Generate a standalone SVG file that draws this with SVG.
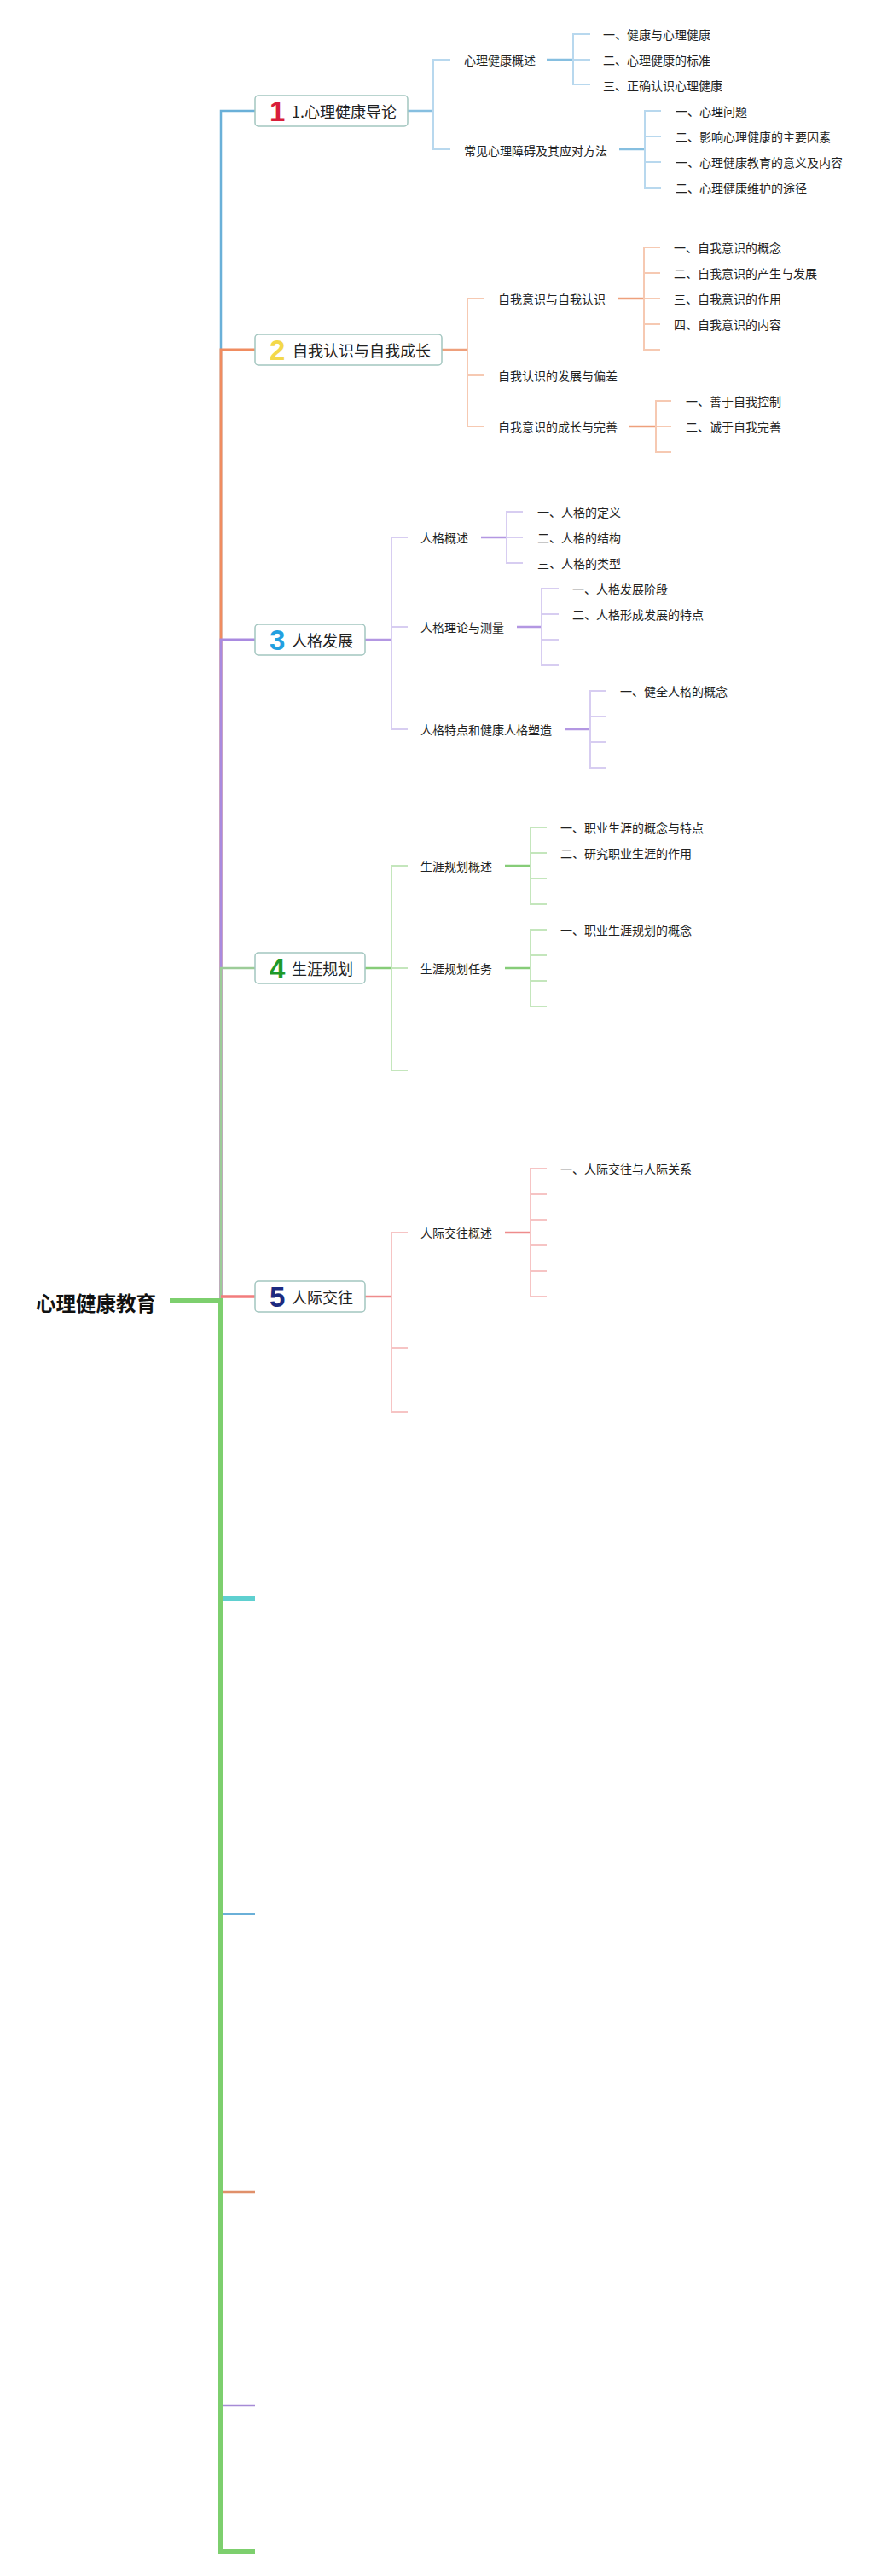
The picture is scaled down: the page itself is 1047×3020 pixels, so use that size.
<svg xmlns="http://www.w3.org/2000/svg" width="1047" height="3020" viewBox="0 0 1047 3020">
<style>
text{font-family:"Noto Sans CJK SC","Noto Sans",sans-serif;dominant-baseline:central;fill:#222}
.root{font-size:23.5px;font-weight:bold;fill:#111}
.main{font-size:18px}
.sub,.leaf{font-size:14px}
.num{font-family:"Liberation Sans","Noto Sans",sans-serif;font-size:33px;font-weight:bold;dominant-baseline:auto}
.box{fill:#fff;stroke:#a3c6c0;stroke-width:1.5}
path{fill:none;stroke-linejoin:miter;stroke-linecap:butt}
.bT{stroke:#6ab0d8;stroke-width:2.5}.bM{stroke:#86bfe0;stroke-width:2.5}.bL{stroke:#b8d8ee;stroke-width:2}
.oT{stroke:#f08c60;stroke-width:3}.oM{stroke:#eea07c;stroke-width:2.5}.oL{stroke:#f6c9b2;stroke-width:2}
.pT{stroke:#a98ae0;stroke-width:3}.pM{stroke:#b397e2;stroke-width:2.5}.pL{stroke:#d7cdf1;stroke-width:2}
.gT{stroke:#9ccc98;stroke-width:2.5}.gM{stroke:#86cc78;stroke-width:2.5}.gL{stroke:#c4e6bc;stroke-width:2}
.rT{stroke:#f27c7c;stroke-width:3.5}.rM{stroke:#ee8c8c;stroke-width:2.5}.rL{stroke:#f6c4c4;stroke-width:2}
</style>
<g id="connectors">
<path class="bT" d="M259,1525V130H299"/>
<path class="oT" d="M259,1525V410H299"/>
<path class="pT" d="M259,1525V750H299"/>
<path class="gT" d="M259,1525V1135H299"/>
<path class="rT" d="M259,1520H299"/>
<path d="M262,1874H299" stroke="#5fd0d0" stroke-width="6"/>
<path d="M262,2244H299" stroke="#6ab0d8" stroke-width="2"/>
<path d="M262,2570H299" stroke="#e0906a" stroke-width="2.5"/>
<path d="M262,2820H299" stroke="#a68bd6" stroke-width="2.5"/>
<path d="M199,1525H259V2991H299" stroke="#7dcf6e" stroke-width="6"/>
<!-- branch 1 -->
<path class="bM" d="M478,130H508"/>
<path class="bL" d="M528,70H508V175H528"/>
<path class="bM" d="M641,70H672"/>
<path class="bL" d="M692,40H672V99H692M672,70H692"/>
<path class="bM" d="M726,175H756"/>
<path class="bL" d="M775,130H756V220H775M756,160H775M756,190H775"/>
<!-- branch 2 -->
<path class="oM" d="M518,410H548"/>
<path class="oL" d="M567,350H548V500H567M548,440H567"/>
<path class="oM" d="M724,350H755"/>
<path class="oL" d="M774,290H755V410H774M755,320H774M755,350H774M755,380H774"/>
<path class="oM" d="M738,500H769"/>
<path class="oL" d="M787,470H769V530H787M769,500H787"/>
<!-- branch 3 -->
<path class="pM" d="M428,750H459"/>
<path class="pL" d="M478,630H459V855H478M459,735H478"/>
<path class="pM" d="M564,630H594"/>
<path class="pL" d="M613,600H594V660H613M594,630H613"/>
<path class="pM" d="M606,735H635"/>
<path class="pL" d="M655,690H635V780H655M635,720H655M635,750H655"/>
<path class="pM" d="M662,855H692"/>
<path class="pL" d="M711,810H692V900H711M692,840H711M692,870H711"/>
<!-- branch 4 -->
<path class="gM" d="M428,1135H459"/>
<path class="gL" d="M478,1015H459V1255H478M459,1135H478"/>
<path class="gM" d="M592,1015H622"/>
<path class="gL" d="M641,970H622V1060H641M622,1000H641M622,1030H641"/>
<path class="gM" d="M592,1135H622"/>
<path class="gL" d="M641,1090H622V1180H641M622,1120H641M622,1150H641"/>
<!-- branch 5 -->
<path class="rM" d="M428,1520H459"/>
<path class="rL" d="M478,1445H459V1655H478M459,1580H478"/>
<path class="rM" d="M592,1445H622"/>
<path class="rL" d="M641,1370H622V1520H641M622,1400H641M622,1430H641M622,1460H641M622,1490H641"/>
</g>
<g id="root"><text class="root" x="42" y="1527">心理健康教育</text></g>
<g id="topic1">
<rect class="box" x="299" y="112" width="179" height="36" rx="4"/>
<text class="num" x="316" y="142" fill="#d81e3a" style="fill:#d81e3a">1</text>
<text class="main" x="342" y="130">1.心理健康导论</text>
</g>
<g id="t1-1"><text class="sub" x="544" y="70">心理健康概述</text></g>
<g id="t1-1-1"><text class="leaf" x="707" y="40">一、健康与心理健康</text></g>
<g id="t1-1-2"><text class="leaf" x="707" y="70">二、心理健康的标准</text></g>
<g id="t1-1-3"><text class="leaf" x="707" y="100">三、正确认识心理健康</text></g>
<g id="t1-2"><text class="sub" x="544" y="176">常见心理障碍及其应对方法</text></g>
<g id="t1-2-1"><text class="leaf" x="792" y="130">一、心理问题</text></g>
<g id="t1-2-2"><text class="leaf" x="792" y="160">二、影响心理健康的主要因素</text></g>
<g id="t1-2-3"><text class="leaf" x="792" y="190">一、心理健康教育的意义及内容</text></g>
<g id="t1-2-4"><text class="leaf" x="792" y="220">二、心理健康维护的途径</text></g>
<g id="topic2">
<rect class="box" x="299" y="392" width="219" height="36" rx="4"/>
<text class="num" x="316" y="422" style="fill:#f3d84a">2</text>
<text class="main" x="343" y="410">自我认识与自我成长</text>
</g>
<g id="t2-1"><text class="sub" x="584" y="350">自我意识与自我认识</text></g>
<g id="t2-1-1"><text class="leaf" x="790" y="290">一、自我意识的概念</text></g>
<g id="t2-1-2"><text class="leaf" x="790" y="320">二、自我意识的产生与发展</text></g>
<g id="t2-1-3"><text class="leaf" x="790" y="350">三、自我意识的作用</text></g>
<g id="t2-1-4"><text class="leaf" x="790" y="380">四、自我意识的内容</text></g>
<g id="t2-2"><text class="sub" x="584" y="440">自我认识的发展与偏差</text></g>
<g id="t2-3"><text class="sub" x="584" y="500">自我意识的成长与完善</text></g>
<g id="t2-3-1"><text class="leaf" x="804" y="470">一、善于自我控制</text></g>
<g id="t2-3-2"><text class="leaf" x="804" y="500">二、诚于自我完善</text></g>
<g id="topic3">
<rect class="box" x="299" y="732" width="129" height="36" rx="4"/>
<text class="num" x="316" y="762" style="fill:#22a0e0">3</text>
<text class="main" x="342" y="750">人格发展</text>
</g>
<g id="t3-1"><text class="sub" x="493" y="630">人格概述</text></g>
<g id="t3-1-1"><text class="leaf" x="630" y="600">一、人格的定义</text></g>
<g id="t3-1-2"><text class="leaf" x="630" y="630">二、人格的结构</text></g>
<g id="t3-1-3"><text class="leaf" x="630" y="660">三、人格的类型</text></g>
<g id="t3-2"><text class="sub" x="493" y="735">人格理论与测量</text></g>
<g id="t3-2-1"><text class="leaf" x="671" y="690">一、人格发展阶段</text></g>
<g id="t3-2-2"><text class="leaf" x="671" y="720">二、人格形成发展的特点</text></g>
<g id="t3-3"><text class="sub" x="493" y="855">人格特点和健康人格塑造</text></g>
<g id="t3-3-1"><text class="leaf" x="727" y="810">一、健全人格的概念</text></g>
<g id="topic4">
<rect class="box" x="299" y="1117" width="129" height="36" rx="4"/>
<text class="num" x="316" y="1147" style="fill:#1e9a28">4</text>
<text class="main" x="342" y="1135">生涯规划</text>
</g>
<g id="t4-1"><text class="sub" x="493" y="1015">生涯规划概述</text></g>
<g id="t4-1-1"><text class="leaf" x="657" y="970">一、职业生涯的概念与特点</text></g>
<g id="t4-1-2"><text class="leaf" x="657" y="1000">二、研究职业生涯的作用</text></g>
<g id="t4-2"><text class="sub" x="493" y="1135">生涯规划任务</text></g>
<g id="t4-2-1"><text class="leaf" x="657" y="1090">一、职业生涯规划的概念</text></g>
<g id="topic5">
<rect class="box" x="299" y="1502" width="129" height="36" rx="4"/>
<text class="num" x="316" y="1532" style="fill:#1c2a80">5</text>
<text class="main" x="342" y="1520">人际交往</text>
</g>
<g id="t5-1"><text class="sub" x="493" y="1445">人际交往概述</text></g>
<g id="t5-1-1"><text class="leaf" x="657" y="1370">一、人际交往与人际关系</text></g>
</svg>
